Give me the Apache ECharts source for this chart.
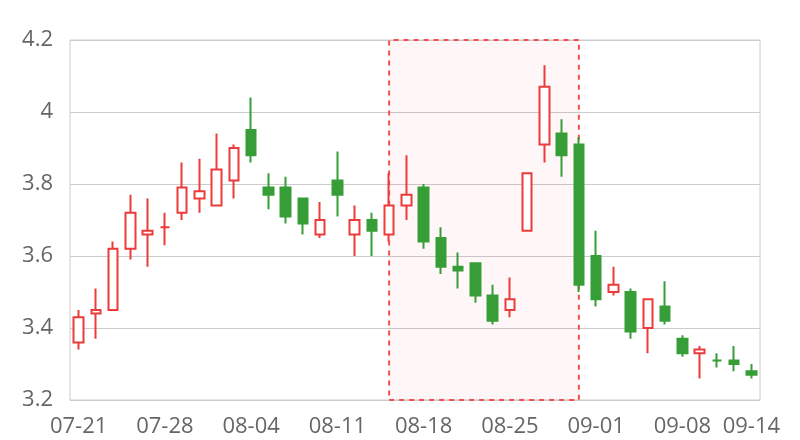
<!DOCTYPE html>
<html>
<head>
<meta charset="utf-8">
<script src="https://cdn.jsdelivr.net/npm/echarts@6/dist/echarts.min.js"></script>
<style>html,body{margin:0;padding:0;background:#fff}#c{width:800px;height:440px}</style>
</head>
<body>
<div id="c"></div>
<script>
const dates = ['07-21','07-22','07-23','07-24','07-25',
  '07-28','07-29','07-30','07-31','08-01',
  '08-04','08-05','08-06','08-07','08-08',
  '08-11','08-12','08-13','08-14','08-15',
  '08-18','08-19','08-20','08-21','08-22',
  '08-25','08-26','08-27','08-28','08-29',
  '09-01','09-02','09-03','09-04','09-05',
  '09-08','09-09','09-10','09-11','09-14'];
const opens  = [3.36,3.44,3.45,3.62,3.66, 3.68,3.72,3.76,3.74,3.81, 3.95,3.79,3.79,3.76,3.66, 3.81,3.66,3.70,3.66,3.74, 3.79,3.65,3.57,3.58,3.49, 3.45,3.67,3.91,3.94,3.91, 3.60,3.50,3.50,3.40,3.46, 3.37,3.33,3.31,3.31,3.28];
const closes = [3.43,3.45,3.62,3.72,3.67, 3.68,3.79,3.78,3.84,3.90, 3.88,3.77,3.71,3.69,3.70, 3.77,3.70,3.67,3.74,3.77, 3.64,3.57,3.56,3.49,3.42, 3.48,3.83,4.07,3.88,3.52, 3.48,3.52,3.39,3.48,3.42, 3.33,3.34,3.31,3.30,3.27];
const lows   = [3.34,3.37,3.45,3.59,3.57, 3.63,3.70,3.72,3.74,3.76, 3.86,3.73,3.69,3.66,3.65, 3.71,3.60,3.60,3.64,3.70, 3.62,3.55,3.51,3.47,3.41, 3.43,3.67,3.86,3.82,3.50, 3.46,3.49,3.37,3.33,3.41, 3.32,3.26,3.29,3.28,3.26];
const highs  = [3.45,3.51,3.64,3.77,3.76, 3.72,3.86,3.87,3.94,3.91, 4.04,3.83,3.82,3.76,3.75, 3.89,3.74,3.72,3.83,3.88, 3.80,3.68,3.61,3.58,3.52, 3.54,3.83,4.13,3.98,3.93, 3.67,3.57,3.51,3.48,3.53, 3.38,3.35,3.33,3.35,3.30];
const yTicks = [3.2, 4.2, 0.2]; // min, max, step
const areaRange = ['08-14', '08-29'];

const candles = dates.map((d, i) => [opens[i], closes[i], lows[i], highs[i]]);
const RED = '#eb3b3b', GREEN = '#379e37';
const FONT = '"Open Sans", sans-serif';

const chart = echarts.init(document.getElementById('c'));
chart.setOption({
  animation: false,
  grid: { left: 70, right: 40, top: 40, bottom: 40, show: true, borderColor: '#cccccc', borderWidth: 1 },
  xAxis: {
    type: 'category',
    data: dates,
    axisLine: { show: false },
    axisTick: { show: false },
    splitLine: { show: false },
    axisLabel: {
      interval: (idx) => idx % 5 === 0 || idx === dates.length - 1,
      color: '#666', fontSize: 22, fontFamily: FONT, margin: 16
    }
  },
  yAxis: {
    type: 'value',
    min: yTicks[0], max: yTicks[1], interval: yTicks[2],
    axisLine: { show: false },
    axisTick: { show: false },
    splitLine: { lineStyle: { color: '#cccccc' } },
    axisLabel: { color: '#666', fontSize: 22, fontFamily: FONT, margin: 17 }
  },
  series: [{
    type: 'candlestick',
    data: candles,
    barWidth: 10,
    itemStyle: {
      color: '#ffffff', color0: GREEN,
      borderColor: RED, borderColor0: GREEN,
      borderWidth: 2
    },
    markArea: {
      silent: true,
      itemStyle: {
        color: 'rgba(255,0,0,0.03)',
        borderColor: '#f05050', borderWidth: 2, borderType: [5, 5]
      },
      data: [[{ xAxis: areaRange[0] }, { xAxis: areaRange[1] }]]
    }
  }]
});
</script>
</body>
</html>
